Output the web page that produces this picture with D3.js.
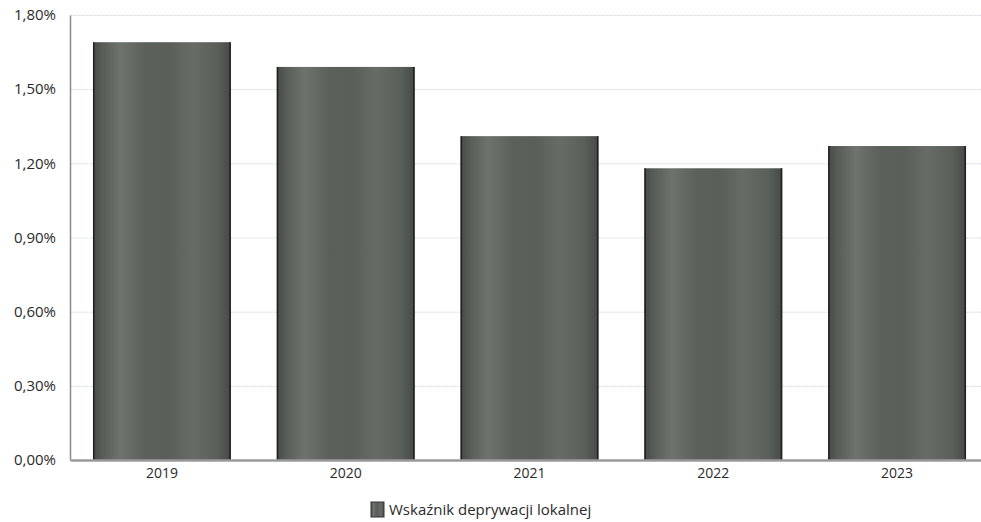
<!DOCTYPE html>
<html>
<head>
<meta charset="utf-8">
<script src="https://cdn.jsdelivr.net/npm/d3@7"></script>
<style>
  body { margin: 0; background: #fff; }
  svg text { font-family: "Open Sans", "Noto Sans", sans-serif; fill: #2a2a2a; }
  .grid line { stroke: #dcdee3; stroke-dasharray: 3,1; }
  .grid path { display: none; }
</style>
</head>
<body>
<div id="chart"></div>
<script>
// chart data
var years  = ['2019', '2020', '2021', '2022', '2023'];
var values = [1.69, 1.59, 1.31, 1.18, 1.27];
var yTicks = [0, 0.3, 0.6, 0.9, 1.2, 1.5, 1.8];
var seriesName = 'Wskaźnik deprywacji lokalnej';

var W = 981, H = 522;
var margin = { top: 15, right: -8, bottom: 62, left: 70 };
var width  = W - margin.left - margin.right;
var height = H - margin.top - margin.bottom;

var svg = d3.select('#chart')
            .append('svg')
            .attr('width', W)
            .attr('height', H);

// bar gradient: mostly mid grey, light streaks
var defs = svg.append('defs');
var grad = defs.append('linearGradient')
               .attr('id', 'barGrad')
               .attr('x1', '0%').attr('x2', '100%')
               .attr('y1', '0%').attr('y2', '0%');
[[0, '#474b47'], [0.07, '#585d58'], [0.2, '#6e736e'], [0.38, '#5b605b'],
 [0.55, '#5a5f5a'], [0.72, '#676c67'], [0.9, '#5a5f5a'], [1, '#464a46']]
  .forEach(function (s) {
      grad.append('stop').attr('offset', s[0]).attr('stop-color', s[1]);
  });

var g = svg.append('g')
           .attr('transform', 'translate(' + margin.left + ',' + margin.top + ')');

var x = d3.scaleBand()
          .domain(years)
          .range([0, width])
          .paddingInner(0.25)
          .paddingOuter(0.125);

var y = d3.scaleLinear()
          .domain([0, 1.8])
          .range([height, 0]);

var fmt = function (d) { return d3.format('.2f')(d).replace('.', ',') + '%'; };

// horizontal grid
g.append('g')
 .attr('class', 'grid')
 .call(d3.axisLeft(y).tickValues(yTicks.slice(1)).tickSize(-width).tickFormat(''));

// y axis labels
var yAxis = g.append('g')
             .call(d3.axisLeft(y).tickValues(yTicks).tickSize(0).tickPadding(14).tickFormat(fmt));
yAxis.select('.domain').attr('stroke', '#8a8a8a').attr('stroke-width', 1.5);
yAxis.selectAll('text').style('font-size', '15px');

// bars
g.selectAll('.bar')
 .data(values)
 .enter()
 .append('rect')
 .attr('class', 'bar')
 .attr('x', function (d, i) { return x(years[i]); })
 .attr('y', function (d) { return y(d); })
 .attr('width', x.bandwidth())
 .attr('height', function (d) { return height - y(d); })
 .attr('fill', 'url(#barGrad)');

// dark side edges of bars
g.selectAll('.edge')
 .data(values)
 .enter()
 .append('path')
 .attr('class', 'edge')
 .attr('d', function (d, i) {
     var x0 = x(years[i]) + 0.75, x1 = x(years[i]) + x.bandwidth() - 0.75;
     return 'M' + x0 + ',' + height + 'V' + y(d) + 'M' + x1 + ',' + y(d) + 'V' + height;
 })
 .attr('stroke', '#1e201e')
 .attr('stroke-width', 1.5)
 .attr('fill', 'none');

// x axis
var xAxis = g.append('g')
             .attr('transform', 'translate(0,' + height + ')')
             .call(d3.axisBottom(x).tickSize(0).tickPadding(8));
xAxis.select('.domain').attr('stroke', '#9a9a9a').attr('stroke-width', 2.5);
xAxis.selectAll('text').style('font-size', '14px');

// legend
var legend = svg.append('g')
                .attr('transform', 'translate(371,502)');
legend.append('rect')
      .attr('width', 13).attr('height', 15)
      .attr('fill', 'url(#barGrad)')
      .attr('stroke', '#333');
legend.append('text')
      .attr('x', 18).attr('y', 12.5)
      .style('font-size', '15px')
      .text(seriesName);
</script>
</body>
</html>
